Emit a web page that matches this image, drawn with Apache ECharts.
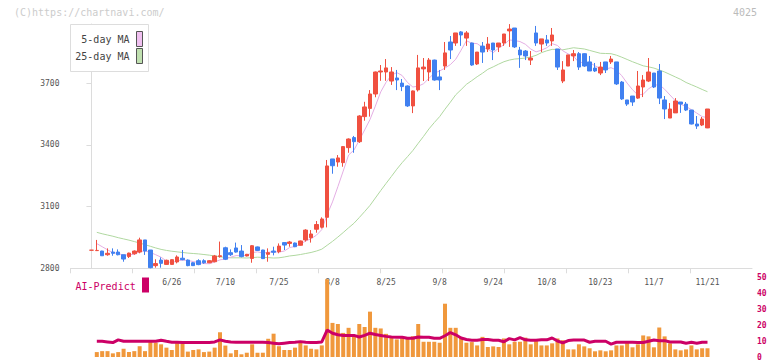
<!DOCTYPE html>
<html><head><meta charset="utf-8">
<script src="https://cdn.jsdelivr.net/npm/echarts@6/dist/echarts.min.js"></script>
<style>html,body{margin:0;padding:0;background:#fff}#c{width:772px;height:361px}</style>
</head><body><div id="c"></div>
<script>
const dates = ['6/5','6/6','6/9','6/10','6/11','6/12','6/13','6/16','6/17','6/18','6/19','6/20','6/23','6/24','6/25','6/26','6/27','6/30',
'7/1','7/2','7/3','7/4','7/7','7/8','7/9','7/10','7/11','7/14','7/15','7/16','7/17','7/18','7/22','7/23','7/24','7/25','7/28','7/29','7/30','7/31',
'8/1','8/4','8/5','8/6','8/7','8/8','8/12','8/13','8/14','8/15','8/18','8/19','8/20','8/21','8/22','8/25','8/26','8/27','8/28','8/29',
'9/1','9/2','9/3','9/4','9/5','9/8','9/9','9/10','9/11','9/12','9/16','9/17','9/18','9/19','9/22','9/24','9/25','9/26','9/29','9/30',
'10/1','10/2','10/3','10/6','10/7','10/8','10/9','10/10','10/14','10/15','10/16','10/17','10/20','10/21','10/22','10/23','10/24','10/27','10/28','10/29','10/30','10/31',
'11/4','11/5','11/6','11/7','11/10','11/11','11/12','11/13','11/14','11/17','11/18','11/19','11/20','11/21'];
const dateLabelIdx = [15,25,35,45,55,65,75,85,95,105,115];
const priceTicks = [2800,3100,3400,3700];
const volTicks = [0,10,20,30,40,50];

const open = [2888,2886,2884,2866,2879,2879,2866,2857,2871,2879,2938,2889,2813,2840,2819,2819,2831,2849,2840,2827,
2837,2837,2827,2832,2857,2900,2876,2899,2884,2860,2848,2904,2889,2868,2884,2881,2925,2921,2923,2912,
2938,2949,2990,3000,3048,3332,3317,3314,3387,3436,3416,3538,3578,3648,3755,3755,3711,3726,3701,3687,
3590,3668,3770,3755,3813,3731,3784,3901,3896,3950,3920,3896,3794,3881,3867,3896,3877,3896,3955,3969,
3862,3857,3813,3945,3891,3911,3906,3867,3711,3784,3833,3844,3844,3804,3774,3750,3804,3804,3804,3706,
3619,3638,3628,3682,3711,3750,3760,3619,3531,3556,3609,3599,3570,3502,3497,3483];
const close = [2888,2887,2861,2873,2873,2866,2845,2874,2884,2938,2884,2803,2823,2824,2839,2842,2855,2842,2813,2813,
2818,2827,2837,2860,2861,2844,2866,2879,2857,2868,2910,2887,2847,2876,2878,2908,2913,2928,2905,2933,
2986,2967,3013,3040,3298,3299,3337,3392,3429,3416,3541,3585,3648,3755,3760,3775,3755,3716,3684,3590,
3663,3775,3779,3813,3716,3716,3848,3862,3945,3935,3945,3789,3852,3852,3891,3862,3896,3940,3964,3877,
3838,3833,3823,3896,3916,3896,3935,3779,3765,3838,3844,3779,3784,3760,3760,3779,3765,3818,3697,3624,
3599,3609,3687,3716,3755,3682,3628,3575,3575,3614,3599,3570,3502,3492,3526,3575];
const low = [2888,2884,2860,2861,2861,2863,2832,2850,2866,2873,2865,2800,2803,2803,2817,2817,2824,2839,2810,2811,
2815,2822,2825,2829,2852,2840,2860,2876,2853,2858,2827,2885,2845,2832,2863,2873,2889,2905,2903,2910,
2930,2925,2973,2994,2999,3260,3294,3294,3362,3362,3410,3518,3538,3632,3712,3712,3692,3667,3662,3585,
3555,3660,3711,3711,3713,3667,3765,3818,3882,3882,3882,3785,3789,3799,3852,3813,3852,3882,3877,3872,
3775,3813,3789,3882,3852,3882,3882,3765,3701,3784,3808,3765,3780,3760,3755,3740,3750,3794,3692,3619,
3590,3590,3624,3633,3706,3677,3599,3526,3531,3556,3556,3565,3500,3478,3492,3482];
const high = [2888,2938,2885,2897,2897,2892,2866,2876,2887,2949,2938,2889,2844,2853,2842,2844,2863,2889,2843,2830,
2844,2844,2840,2865,2930,2905,2892,2925,2913,2870,2913,2906,2890,2897,2905,2921,2926,2933,2925,2935,
2990,2986,3030,3048,3327,3332,3351,3395,3432,3444,3545,3610,3667,3757,3789,3818,3779,3765,3721,3690,
3665,3838,3823,3823,3815,3765,3901,3930,3945,3954,3954,3898,3852,3901,3925,3896,3896,3940,3988,3969,
3877,3862,3857,3979,3916,3935,3969,3867,3808,3838,3862,3852,3846,3833,3799,3804,3804,3833,3804,3711,
3619,3638,3760,3740,3823,3750,3794,3638,3604,3628,3609,3609,3570,3541,3536,3575];

const ma5 = [null,2920,2905,2890,2876,2872,2864,2866,2868,2881,2885,2877,2866,2854,2835,2826,2837,2840,2838,2833,
2828,2823,2822,2831,2841,2846,2854,2862,2861,2863,2876,2880,2874,2878,2880,2879,2884,2901,2906,2917,
2933,2944,2961,2988,3061,3123,3197,3273,3351,3375,3423,3473,3524,3589,3658,3705,3739,3752,3738,3704,
3682,3686,3698,3724,3749,3760,3774,3791,3817,3861,3907,3895,3893,3875,3866,3849,3871,3888,3911,3908,
3903,3890,3867,3853,3861,3873,3893,3884,3858,3843,3832,3801,3802,3801,3785,3772,3770,3776,3764,3737,
3701,3669,3643,3647,3673,3690,3694,3671,3643,3615,3598,3587,3572,3555,3538,3533];
const ma25 = [null,2975,2968,2962,2956,2949,2943,2937,2930,2923,2915,2907,2899,2892,2887,2883,2880,2877,2874,2872,
2870,2867,2864,2860,2856,2853,2851,2851,2851,2850,2852,2854,2853,2852,2850,2851,2855,2860,2863,2867,
2872,2877,2884,2893,2912,2931,2952,2974,2997,3019,3047,3076,3106,3142,3178,3213,3247,3282,3314,3343,
3373,3408,3442,3478,3509,3538,3574,3608,3644,3669,3695,3713,3732,3749,3768,3780,3793,3805,3813,3818,
3820,3823,3828,3836,3849,3858,3865,3865,3863,3868,3873,3870,3867,3860,3853,3846,3845,3844,3837,3827,
3816,3805,3795,3785,3780,3774,3765,3755,3743,3731,3719,3704,3693,3682,3670,3659];
const volume = [null,3.1,3.7,3.7,2.3,3.1,5.2,3.1,3.7,6.8,3.7,9.4,9.0,8.0,5.9,4.4,9.8,8.3,3.4,4.4,
4.8,3.1,3.4,5.9,15.6,7.2,2.3,4.4,1.7,2.7,8.0,2.7,2.7,11.5,14.7,6.8,4.4,4.4,5.9,9.4,
7.3,5.2,4.8,7.3,49,21.5,20.8,15.2,18.4,13.1,20.8,18.9,28.6,18.4,18.0,14.6,12.5,11.1,13.1,11.7,
13.1,20.8,9.6,9.6,9.6,9.0,33.6,18.4,18.4,12.2,9.0,9.4,7.3,12.7,6.3,6.7,6.3,11.7,8.0,9.6,
9.6,12.2,8.0,10.0,7.3,7.3,8.6,11.7,10.6,4.8,4.8,8.0,6.7,5.5,3.6,4.2,3.6,4.2,7.3,7.3,
9.2,6.1,8.0,13.6,13.0,6.1,18.6,13.0,8.6,4.8,4.2,4.8,7.3,4.8,5.5,5.5];
const aiPredict = [null,9.9,9.9,9.5,9.1,10.8,9.9,9.9,9.9,9.9,9.9,9.9,9.9,10.6,9.9,9.3,9.3,9.1,9.1,9.1,
9.1,9.1,9.1,9.5,10.8,9.9,9.5,9.3,9.3,9.3,9.3,9.3,9.3,9.1,8.7,8.3,8.7,9.1,9.3,9.7,
9.3,9.1,9.1,9.5,17.0,15.0,14.0,13.5,13.6,13.6,12.6,13.6,15.0,14.2,13.6,13.0,12.6,12.4,12.4,11.8,
11.8,12.6,12.4,12.4,11.8,11.8,13.4,15.4,14.0,12.0,11.0,10.6,10.6,11.0,11.0,10.6,10.6,9.6,11.6,10.8,
12.2,10.8,10.6,10.6,10.8,10.8,12.0,10.1,8.9,10.4,10.7,10.7,10.7,9.3,9.9,9.9,9.9,8.1,9.3,9.3,
9.3,9.3,9.1,9.1,9.9,10.7,10.3,10.3,9.5,9.5,9.5,8.7,9.3,8.7,9.3,9.3];

// layout
const X_MIN = -3.91, X_MAX = 123.31;
const xTickVals = Array.from({length: 12}, (_, k) => X_MIN + k * (X_MAX - X_MIN) / 11);
const MONO = '"DejaVu Sans Mono", monospace';
const UP = '#f05040', DOWN = '#4080f0';

const candleData = dates.map((d, i) => [i, open[i], close[i], low[i], high[i]]);
const pairs = arr => arr.map((v, i) => [i, v == null ? '-' : v]);

const chart = echarts.init(document.getElementById('c'), null, {renderer: 'svg'});
chart.setOption({
  animation: false,
  backgroundColor: '#fff',
  grid: [
    {left: 70.5, right: 20, top: 24, bottom: 92.7},
    {left: 70.5, right: 20, top: 277.7, bottom: 3.3}
  ],
  xAxis: [
    {type: 'value', gridIndex: 0, min: X_MIN, max: X_MAX,
     axisLine: {show: true, lineStyle: {color: '#dcdcdc', width: 1}},
     axisTick: {show: true, customValues: xTickVals, length: 5, lineStyle: {color: '#dcdcdc'}},
     axisLabel: {customValues: dateLabelIdx, formatter: v => dates[Math.round(v)] || '',
                 fontFamily: MONO, fontSize: 8, color: '#555', margin: 10},
     splitLine: {show: false}},
    {type: 'value', gridIndex: 1, min: X_MIN, max: X_MAX, show: false}
  ],
  yAxis: [
    {type: 'value', gridIndex: 0, min: 2800, max: 3988.5,
     axisLine: {show: true, lineStyle: {color: '#dcdcdc', width: 1}},
     axisTick: {show: true, customValues: priceTicks, length: 5, lineStyle: {color: '#dcdcdc'}},
     axisLabel: {customValues: priceTicks, formatter: v => String(v), fontFamily: MONO, fontSize: 8, color: '#555', margin: 11},
     splitLine: {show: false}},
    {type: 'value', gridIndex: 1, min: 0, max: 50, position: 'right',
     axisLine: {show: false}, axisTick: {show: false},
     axisLabel: {customValues: volTicks, formatter: v => String(v), fontFamily: MONO, fontSize: 8, color: '#cc0066', margin: 5, fontWeight: 'bold'},
     splitLine: {show: false}}
  ],
  series: [
    {type: 'line', name: '25-day MA', xAxisIndex: 0, yAxisIndex: 0, data: pairs(ma25),
     showSymbol: false, lineStyle: {color: '#b0d8a0', width: 1}, z: 2},
    {type: 'line', name: '5-day MA', xAxisIndex: 0, yAxisIndex: 0, data: pairs(ma5),
     showSymbol: false, lineStyle: {color: '#e4aee4', width: 1}, z: 2},
    {type: 'candlestick', xAxisIndex: 0, yAxisIndex: 0, data: candleData,
     encode: {x: 0, y: [1, 2, 3, 4]}, barWidth: 4, z: 3,
     itemStyle: {color: UP, color0: DOWN, borderColor: UP, borderColor0: DOWN, borderWidth: 1}},
    {type: 'bar', name: 'volume', xAxisIndex: 1, yAxisIndex: 1, data: pairs(volume),
     barWidth: 4, itemStyle: {color: '#f0983c'}, z: 2},
    {type: 'line', name: 'AI-Predict', xAxisIndex: 1, yAxisIndex: 1, data: pairs(aiPredict),
     showSymbol: false, lineStyle: {color: '#cc0066', width: 3}, z: 3}
  ],
  graphic: [
    {type: 'text', x: 14, y: 12, z: 100, style: {text: '(C)https://chartnavi.com/', font: '10px ' + MONO, fill: '#cccccc', verticalAlign: 'middle'}},
    {type: 'text', x: 757, y: 12, z: 100, style: {text: '4025', font: '10px ' + MONO, fill: '#bbbbbb', align: 'right', verticalAlign: 'middle'}},
    {type: 'rect', z: 100, shape: {x: 70.5, y: 24.5, width: 78, height: 47}, style: {fill: '#fff', stroke: '#dddddd', lineWidth: 1}},
    {type: 'text', x: 129.5, y: 39, z: 101, style: {text: '5-day MA', font: '10px ' + MONO, fill: '#444', align: 'right', verticalAlign: 'middle'}},
    {type: 'rect', z: 101, shape: {x: 136.5, y: 31.5, width: 6, height: 15}, style: {fill: '#f0c0f0', stroke: '#555', lineWidth: 1}},
    {type: 'text', x: 129.5, y: 56, z: 101, style: {text: '25-day MA', font: '10px ' + MONO, fill: '#444', align: 'right', verticalAlign: 'middle'}},
    {type: 'rect', z: 101, shape: {x: 136.5, y: 48.5, width: 6, height: 15}, style: {fill: '#c0e0b0', stroke: '#555', lineWidth: 1}},
    {type: 'text', x: 75.5, y: 286, z: 100, style: {text: 'AI-Predict', font: '10px ' + MONO, fill: '#cc0066', verticalAlign: 'middle'}},
    {type: 'rect', z: 100, shape: {x: 142, y: 277.5, width: 7, height: 15}, style: {fill: '#cc0066'}}
  ]
});
</script>
</body></html>
